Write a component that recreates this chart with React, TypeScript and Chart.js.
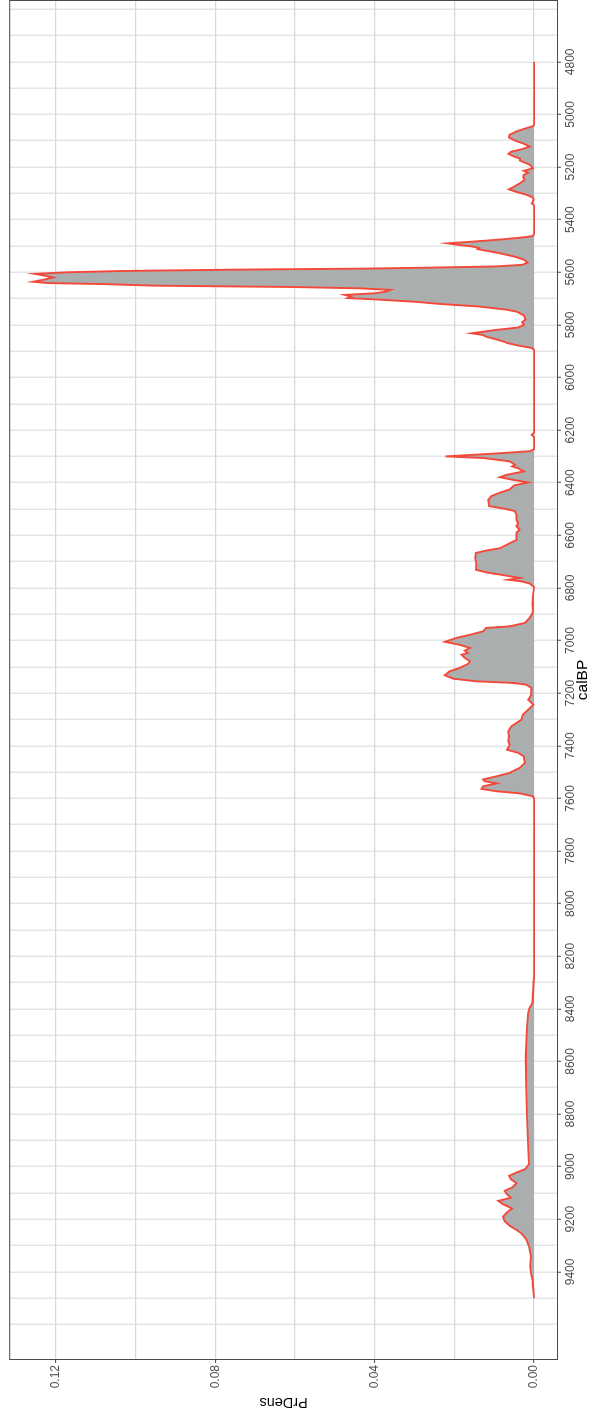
import React, { useEffect, useRef } from 'react';
import { Chart, registerables } from 'chart.js';
Chart.register(...registerables);

const calBP = [
  4800, 5040, 5044, 5055, 5065, 5078, 5088, 5098, 5110, 5122, 5132, 5142, 5150, 5160, 5168, 5175, 5182, 5192,
  5205, 5214, 5222, 5230, 5239, 5249, 5262, 5277, 5285, 5294, 5306, 5315, 5325, 5333, 5338, 5344, 5350,
  5455, 5462, 5467, 5475, 5483, 5490, 5496, 5502, 5508, 5512, 5516, 5525, 5540, 5552, 5563, 5572, 5578,
  5582, 5586, 5590, 5595, 5600, 5606, 5612, 5620, 5628, 5636, 5641, 5645, 5651, 5656, 5661, 5667, 5673,
  5680, 5686, 5692, 5698, 5703, 5712, 5720, 5730, 5742, 5750, 5765, 5780, 5790, 5800, 5810, 5820, 5832,
  5838, 5845, 5855, 5862, 5870, 5880, 5888, 5895,
  6210, 6218, 6226, 6272, 6280, 6288, 6300, 6306, 6319, 6332, 6338, 6345, 6357, 6370, 6379, 6389, 6399,
  6410, 6425, 6440, 6451, 6465, 6489, 6499, 6508, 6525, 6541, 6555, 6566, 6578, 6590, 6605, 6617, 6636,
  6649, 6658, 6667, 6685, 6700, 6715, 6731, 6741, 6750, 6762, 6769, 6775, 6783, 6797,
  6830, 6860, 6885, 6895, 6914, 6933, 6946, 6952, 6965, 6978, 6990, 7005, 7016, 7028, 7038, 7047, 7054,
  7066, 7079, 7089, 7104, 7117, 7132, 7145, 7155, 7161, 7168, 7180, 7206, 7225, 7244, 7263, 7282, 7301,
  7313, 7326, 7345, 7364, 7383, 7396, 7415, 7427, 7440, 7465, 7484, 7503, 7516, 7528, 7535, 7543, 7554,
  7564, 7573, 7581, 7592, 7600,
  8280, 8290, 8377, 8396, 8415, 8478, 8580, 8694, 8795, 8922, 8991, 9010, 9022, 9035, 9048, 9063, 9079,
  9092, 9105, 9118, 9130, 9143, 9159, 9174, 9190, 9207, 9226, 9240, 9252, 9277, 9302, 9340, 9380, 9403,
  9430, 9466, 9500,
];

const prDens = [
  0, 0, 0.0002, 0.0025, 0.0045, 0.0062, 0.0063, 0.005, 0.0028, 0.0011, 0.003, 0.0058, 0.0064, 0.005, 0.0035, 0.0036, 0.0025, 0.001,
  0.0003, 0.0026, 0.0015, 0.0026, 0.0027, 0.0024, 0.0036, 0.0053, 0.0063, 0.0045, 0.0018, 0.0004, 0.0001, 0.0004, 0.0006, 0.0001, 0,
  0, 0.0003, 0.0025, 0.008, 0.015, 0.0217, 0.019, 0.0155, 0.0138, 0.0141, 0.0128, 0.0095, 0.005, 0.0025, 0.0016, 0.003, 0.01,
  0.025, 0.042, 0.075, 0.103, 0.117, 0.1253, 0.123, 0.1207, 0.123, 0.1257, 0.122, 0.108, 0.095, 0.061, 0.044, 0.036, 0.037,
  0.04, 0.0475, 0.046, 0.0468, 0.04, 0.03, 0.024, 0.014, 0.007, 0.0043, 0.0025, 0.0022, 0.003, 0.0025, 0.004, 0.01, 0.0157,
  0.013, 0.012, 0.0095, 0.008, 0.0065, 0.0035, 0.0005, 0,
  0, 0.0006, 0, 0, 0.001, 0.0086, 0.0222, 0.0128, 0.0061, 0.0048, 0.0055, 0.004, 0.0026, 0.0069, 0.0086, 0.0053, 0.0015,
  0.005, 0.0061, 0.009, 0.0107, 0.0115, 0.0113, 0.0074, 0.0048, 0.0044, 0.0044, 0.004, 0.0044, 0.0036, 0.0044, 0.0044, 0.0044, 0.0069,
  0.0086, 0.012, 0.0146, 0.0148, 0.0146, 0.0145, 0.0146, 0.012, 0.0082, 0.0036, 0.0065, 0.0032, 0.0011, 0,
  0.0003, 0.0004, 0.0003, 0.0004, 0.0011, 0.0023, 0.0061, 0.012, 0.0128, 0.0161, 0.0195, 0.0224, 0.0187, 0.0161, 0.0174, 0.0166, 0.0182,
  0.0174, 0.0161, 0.0166, 0.0187, 0.0212, 0.0224, 0.0203, 0.0145, 0.0053, 0.0019, 0.0007, 0.0007, 0.0015, 0.0002, 0.0015, 0.0028, 0.0032,
  0.0044, 0.0057, 0.0065, 0.0063, 0.0065, 0.0061, 0.0068, 0.004, 0.0026, 0.0023, 0.0036, 0.0061, 0.0094, 0.0128, 0.0124, 0.0094, 0.0128,
  0.0132, 0.0094, 0.0036, 0.0003, 0,
  0, 0.0001, 0.0004, 0.0011, 0.0015, 0.0018, 0.0021, 0.002, 0.0018, 0.0015, 0.0013, 0.0023, 0.0044, 0.0063, 0.0058, 0.0044, 0.0055,
  0.0074, 0.0068, 0.0058, 0.009, 0.0078, 0.0055, 0.0068, 0.0078, 0.0074, 0.006, 0.0045, 0.0033, 0.0019, 0.0013, 0.0008, 0.001, 0.0008,
  0.0004, 0.0002, 0,
];

const calBPLabels = [4800, 5000, 5200, 5400, 5600, 5800, 6000, 6200, 6400, 6600, 6800, 7000, 7200, 7400, 7600, 7800, 8000, 8200, 8400, 8600, 8800, 9000, 9200, 9400];
const calBPGrid = [4600, 4700, 4800, 4900, 5000, 5100, 5200, 5300, 5400, 5500, 5600, 5700, 5800, 5900, 6000, 6100, 6200, 6300, 6400, 6500, 6600, 6700, 6800, 6900, 7000, 7100, 7200, 7300, 7400, 7500, 7600, 7700, 7800, 7900, 8000, 8100, 8200, 8300, 8400, 8500, 8600, 8700, 8800, 8900, 9000, 9100, 9200, 9300, 9400, 9500, 9600];
const prDensLabels = [0, 0.04, 0.08, 0.12];
const prDensGrid = [0, 0.02, 0.04, 0.06, 0.08, 0.1, 0.12];

const FONT = '"Liberation Sans", Arial, Helvetica, sans-serif';

export default function App() {
  const ref = useRef<HTMLCanvasElement>(null);

  useEffect(() => {
    document.body.style.margin = '0';
    const canvas = ref.current;
    if (!canvas) return;

    const panelBorder = {
      id: 'panelBorder',
      afterDraw(chart: any) {
        const { ctx, chartArea: a } = chart;
        ctx.save();
        ctx.strokeStyle = '#4a4a4a';
        ctx.lineWidth = 1;
        ctx.strokeRect(a.left + 0.5, a.top + 0.5, a.right - a.left - 1, a.bottom - a.top - 1);
        ctx.restore();
      },
    };

    const chart = new Chart(canvas, {
      type: 'line',
      data: {
        datasets: [
          {
            data: calBP.map((x, i) => ({ x, y: prDens[i] })),
            borderColor: 'rgb(244, 72, 58)',
            borderWidth: 1.9,
            backgroundColor: 'rgb(170, 174, 175)',
            fill: 'origin',
            pointRadius: 0,
            tension: 0,
          },
        ],
      },
      options: {
        responsive: false,
        animation: false,
        devicePixelRatio: 1,
        layout: { padding: { top: 9, right: 0, left: 0, bottom: 0 } },
        plugins: { legend: { display: false }, tooltip: { enabled: false } },
        scales: {
          x: {
            type: 'linear',
            position: 'bottom',
            reverse: true,
            min: 4565,
            max: 9735,
            afterBuildTicks: (s: any) => {
              s.ticks = calBPGrid.map((v) => ({ value: v }));
            },
            afterFit: (s: any) => {
              s.height = 36;
            },
            ticks: {
              autoSkip: false,
              maxRotation: 0,
              minRotation: 0,
              padding: 2,
              color: '#4d4d4d',
              font: { size: 12, family: FONT },
              callback: (v: any) => (calBPLabels.includes(Number(v)) ? String(v) : ''),
            },
            grid: {
              color: '#e3e5e9',
              lineWidth: 1.5,
              tickLength: 3,
              tickWidth: 1,
              tickColor: (c: any) => (c.tick && calBPLabels.includes(c.tick.value) ? '#4d4d4d' : 'rgba(0,0,0,0)'),
            },
            border: { display: false },
            title: {
              display: true,
              text: 'calBP',
              color: '#000',
              font: { size: 15.5, family: FONT },
              padding: { top: 0, bottom: 1.7 },
            },
          },
          y: {
            type: 'linear',
            position: 'left',
            min: -0.006,
            max: 0.1317,
            afterBuildTicks: (s: any) => {
              s.ticks = prDensGrid.map((v) => ({ value: v }));
            },
            afterFit: (s: any) => {
              s.width = 60;
            },
            ticks: {
              autoSkip: false,
              padding: 2,
              color: '#4d4d4d',
              font: { size: 12, family: FONT },
              callback: (v: any) => (prDensLabels.includes(Number(v)) ? Number(v).toFixed(2) : ''),
            },
            grid: {
              color: '#d3d9e0',
              lineWidth: 1.2,
              tickLength: 3,
              tickWidth: 1,
              tickColor: (c: any) => (c.tick && prDensLabels.includes(c.tick.value) ? '#4d4d4d' : 'rgba(0,0,0,0)'),
            },
            border: { display: false },
            title: {
              display: true,
              text: 'PrDens',
              color: '#000',
              font: { size: 14.5, family: FONT },
              padding: { top: 9.3, bottom: 0 },
            },
          },
        },
      },
      plugins: [panelBorder],
    } as any);

    return () => chart.destroy();
  }, []);

  return (
    <div style={{ position: 'fixed', left: 0, top: 0, width: 594, height: 1420, overflow: 'hidden', background: '#fff' }}>
      <div
        style={{
          position: 'absolute',
          left: 0,
          top: 0,
          width: 1420,
          height: 594,
          transformOrigin: '0 0',
          transform: 'translate(0px, 1420px) rotate(-90deg)',
        }}
      >
        <canvas ref={ref} width={1420} height={594} style={{ display: 'block', width: 1420, height: 594 }} />
      </div>
    </div>
  );
}
